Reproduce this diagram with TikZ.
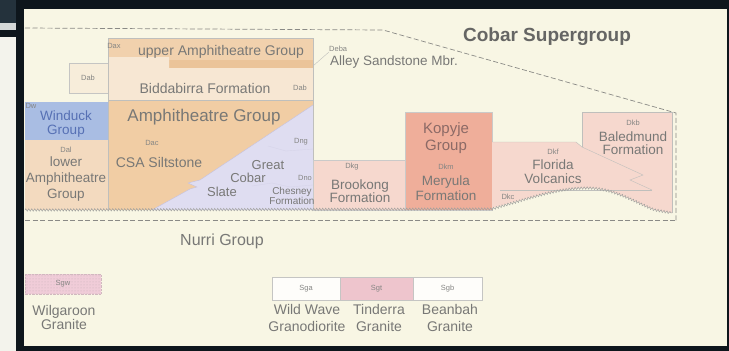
\documentclass[tikz,border=0pt]{standalone}
\usepackage{fontspec}
\setmainfont{Liberation Sans}
\usetikzlibrary{decorations.pathmorphing,patterns}

\definecolor{screen}{HTML}{0E161C}
\definecolor{uitop}{HTML}{24323C}
\definecolor{uigray}{HTML}{D4D8D8}
\definecolor{uilight}{HTML}{F3F3EC}
\definecolor{paper}{HTML}{F8F6E4}
\definecolor{ink}{HTML}{787876}
\definecolor{rule}{HTML}{8A8A86}
\definecolor{tanD}{HTML}{F1D1AD}
\definecolor{tanS}{HTML}{EBC499}
\definecolor{tanL}{HTML}{F7E7D3}
\definecolor{tanM}{HTML}{F3DABF}
\definecolor{amph}{HTML}{F1CDA4}
\definecolor{slate}{HTML}{DFDDF1}
\definecolor{slateD}{HTML}{C4C1DF}
\definecolor{windB}{HTML}{A9BDE3}
\definecolor{windT}{HTML}{5670B4}
\definecolor{pinkL}{HTML}{F6D8CE}
\definecolor{kopy}{HTML}{EFAE9A}
\definecolor{kopyT}{HTML}{8C6A66}
\definecolor{wilg}{HTML}{F0CCD8}
\definecolor{tind}{HTML}{EBB9C7}

\tikzset{
  unitname/.style={font=\fontsize{13.5}{15}\selectfont, text=ink, inner sep=0pt, align=center},
  unitcode/.style={font=\fontsize{7.5}{8}\selectfont, text=ink!90, inner sep=0pt},
  edge/.style={draw=rule!55, line width=0.4pt},
  zig/.style={decorate, decoration={zigzag, segment length=3pt, amplitude=1.2pt}, draw=rule!80, line width=0.5pt},
  groupline/.style={draw=rule, dash pattern=on 5pt off 2.5pt, line width=0.7pt}
}

\begin{document}
\begin{tikzpicture}[x=1pt,y=-1pt]
  \useasboundingbox (0,0) rectangle (729,351);
  % screen round the slide
    \fill[screen] (0,0) rectangle (729,351);
    \fill[uitop] (0,0) rectangle (16,23);
    \fill[uigray] (0,23) rectangle (16,30);
    \fill[uilight] (0,37) rectangle (16,351);
    \fill[paper] (24,9) rectangle (727,346);
  % upper amphitheatre and biddabirra
    \fill[tanD] (108,38) -- (313,38) -- (313,68) -- (169,68) -- (169,57) -- (108,57) -- cycle;
    \fill[tanS] (169,60) rectangle (313,68);
    \fill[tanL] (108,57) -- (169,57) -- (169,68) -- (313,68) -- (313,100) -- (108,100) -- cycle;
    \filldraw[fill=tanL!60!paper, draw=rule!50] (69,63) rectangle (108,93);
  % winduck and lower amphitheatre
    \fill[windB] (25,102) rectangle (108,140);
    \fill[tanM] (25,140) rectangle (108,210);
  % amphitheatre group and great cobar slate
    \fill[amph] (108,100) rectangle (313,210);
    \fill[slate] (313,105) -- (200,180) -- (188,183) -- (197,187) -- (190,189) -- (152,210) -- (313,210) -- cycle;
    \draw[slateD, line width=0.4pt] (313,105) -- (200,180) -- (188,183) -- (197,187) -- (190,189) -- (152,210);
    \draw[slateD!70, line width=0.4pt] (268,146) -- (286,151) -- (313,149);
    \draw[slateD!70, line width=0.4pt] (252,186) -- (272,183) -- (290,187) -- (313,185);
    \draw[edge] (108,38) -- (313,38) -- (313,210);
    \draw[edge] (108,38) -- (108,210);
    \draw[edge] (108,100) -- (313,100);
  % brookong and kopyje
    \filldraw[fill=pinkL, draw=rule!45] (313,160) rectangle (405,210);
    \filldraw[fill=kopy, draw=rule!45] (405,112) rectangle (492,210);
  % florida volcanics and baledmund
    \fill[pinkL] (492,142) -- (576,142) -- (582,147) -- (582,112) -- (672,112) -- (672,213)
      -- (655,210) .. controls (640,205) and (615,188) .. (588,188)
      .. controls (560,188) and (540,195) .. (492,208) -- cycle;
    \draw[edge] (492,142) -- (576,142) -- (582,147);
    \draw[edge] (582,147) -- (582,112) -- (672,112) -- (672,213);
    \draw[edge] (582,147) -- (643,175) -- (630,180) -- (652,190);
    \draw[edge] (500,190) -- (652,190);
  % crenulated base
    \draw[zig] (25,210) -- (492,209) .. controls (540,195) and (560,188) .. (588,188)
      .. controls (615,188) and (640,205) .. (655,210) -- (672,213);
  % supergroup outline
    \draw[groupline] (25,28) -- (383,30) -- (676,113) -- (676,222);
    \draw[groupline] (25,220) -- (676,220);
    \node[font=\fontsize{19}{19}\selectfont\bfseries, text=ink!85!black, inner sep=0pt] (cobar) at (547,37) {Cobar Supergroup};
  % labels in the columns
    \node[unitcode] (dax) at (114,46) {Dax};
    \node[unitname, font=\fontsize{14}{15}\selectfont] (upamph) at (221,52) {upper Amphitheatre Group};
    \node[unitcode, anchor=west] (deba) at (329,49) {Deba};
    \node[unitname, anchor=west] (alley) at (330,62) {Alley Sandstone Mbr.};
    \coordinate (alleytip) at (313,66);
    \draw[edge] (alleytip) -- (deba.south west);
    \node[unitcode] (dabbox) at (88,78) {Dab};
    \node[unitname, font=\fontsize{14}{15}\selectfont] (bidda) at (205,88) {Biddabirra Formation};
    \node[unitcode] (dab) at (300,88) {Dab};
    \node[unitcode] (dw) at (31,106) {Dw};
    \node[unitname, text=windT, font=\fontsize{13.5}{14}\selectfont] (winduck) at (66,124) {Winduck\\Group};
    \node[unitcode] (dal) at (66,150) {Dal};
    \node[unitname, font=\fontsize{13.5}{16}\selectfont] (lowamph) at (66,179) {lower\\Amphitheatre\\Group};
    \node[unitname, font=\fontsize{17}{17}\selectfont] (amphgrp) at (204,117) {Amphitheatre Group};
    \node[unitcode] (dac) at (152,143) {Dac};
    \node[unitname, font=\fontsize{14}{15}\selectfont] (csa) at (159,162) {CSA Siltstone};
    \node[unitcode] (dng) at (301,142) {Dng};
    \node[unitname, font=\fontsize{13}{14}\selectfont] (great) at (268,165) {Great};
    \node[unitname, font=\fontsize{13}{14}\selectfont] (cobarsl) at (248,178) {Cobar};
    \node[unitname, font=\fontsize{13}{14}\selectfont] (slatelb) at (222,192) {Slate};
    \node[unitcode] (dno) at (305,178) {Dno};
    \node[unitname, font=\fontsize{10}{10}\selectfont] (chesney) at (292,196) {Chesney\\Formation};
    \node[unitcode] (dkg) at (352,167) {Dkg};
    \node[unitname, font=\fontsize{13.5}{13.5}\selectfont] (brook) at (360,191) {Brookong\\Formation};
    \node[unitname, text=kopyT, font=\fontsize{15}{17}\selectfont] (kopyje) at (446,138) {Kopyje\\Group};
    \node[unitcode] (dkm) at (446,167) {Dkm};
    \node[unitname, font=\fontsize{13.5}{15}\selectfont] (meryula) at (446,188) {Meryula\\Formation};
    \node[unitcode] (dkc) at (508,197) {Dkc};
    \node[unitcode] (dkf) at (553,152) {Dkf};
    \node[unitname, font=\fontsize{13.5}{14}\selectfont] (florida) at (553,172) {Florida\\Volcanics};
    \node[unitcode] (dkb) at (633,123) {Dkb};
    \node[unitname, font=\fontsize{13.5}{13.5}\selectfont] (baled) at (633,143) {Baledmund\\Formation};
    \node[unitname, font=\fontsize{16}{16}\selectfont] (nurri) at (222,241) {Nurri Group};
  % granite legend
    \filldraw[fill=wilg, draw=wilg!70!rule, densely dotted] (25,274) rectangle (101,294);
    \fill[pattern=dots, pattern color=wilg!60!rule] (25,274) rectangle (101,294);
    \node[unitcode] (sgw) at (63,284) {Sgw};
    \node[unitname, font=\fontsize{14}{14}\selectfont] (wilgaroon) at (64,317) {Wilgaroon\\Granite};
    \foreach \code/\fillc/\xa/\xb in {Sga/white/272/340, Sgt/tind/340/413, Sgb/white/413/482} {
      \filldraw[fill=\fillc!80!paper, draw=rule!50] (\xa,277) rectangle (\xb,300);
      \node[unitcode] (\code) at ({(\xa+\xb)/2},288.5) {\code};
    }
    \node[unitname, font=\fontsize{14}{17}\selectfont] (wildwave) at (307,318) {Wild Wave\\Granodiorite};
    \node[unitname, font=\fontsize{14}{17}\selectfont] (tinderra) at (379,318) {Tinderra\\Granite};
    \node[unitname, font=\fontsize{14}{17}\selectfont] (beanbah) at (450,318) {Beanbah\\Granite};
\end{tikzpicture}
\end{document}
